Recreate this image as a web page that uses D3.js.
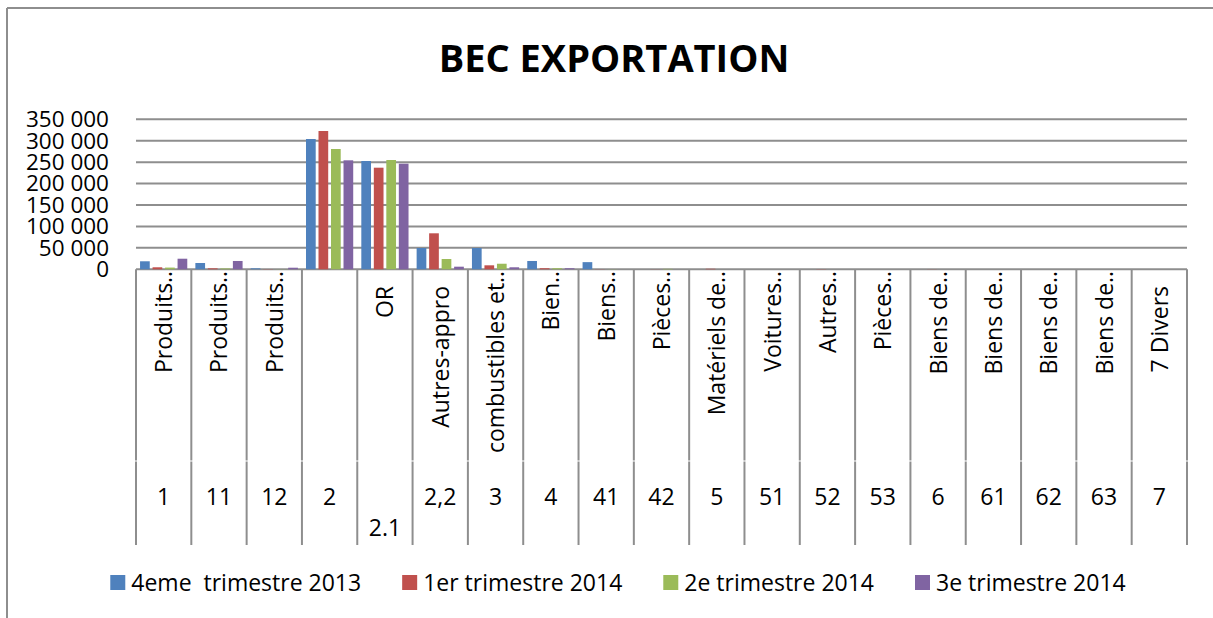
<!DOCTYPE html>
<html>
<head>
<meta charset="utf-8">
<script src="https://cdn.jsdelivr.net/npm/d3@7"></script>
<style>
  html, body { margin: 0; padding: 0; background: #fff; }
  svg { display: block; font-family: "Open Sans", sans-serif; }
</style>
</head>
<body>
<svg id="chart" width="1213" height="618"></svg>
<script>
// ---- data ----
const title = "BEC EXPORTATION";
const codes = ["1", "11", "12", "2", "2.1", "2,2", "3", "4", "41", "42", "5", "51", "52", "53", "6", "61", "62", "63", "7"];
const names = ["Produits…", "Produits…", "Produits…", "", "OR", "Autres-appro", "combustibles et…", "Bien…", "Biens…", "Pièces…",
               "Matériels de…", "Voitures…", "Autres…", "Pièces…", "Biens de…", "Biens de…", "Biens de…", "Biens de…", "7 Divers"];
const seriesNames = ["4eme  trimestre 2013", "1er trimestre 2014", "2e trimestre 2014", "3e trimestre 2014"];
const q4_2013 = [18700, 14700, 2300, 304000, 252700, 49700, 49700, 19400, 16700, 0, 0, 0, 0, 0, 0, 0, 0, 0, 0];
const q1_2014 = [4700, 2300, 500, 322700, 237100, 84000, 9300, 2500, 400, 300, 1200, 0, 500, 0, 300, 0, 0, 0, 0];
const q2_2014 = [4000, 2000, 300, 280700, 255000, 24000, 13000, 2500, 300, 1000, 0, 0, 0, 0, 0, 0, 0, 0, 0];
const q3_2014 = [24700, 19400, 3700, 254300, 246400, 6100, 4700, 2500, 0, 0, 0, 0, 0, 0, 0, 0, 0, 0, 0];
const yTicks = [0, 50000, 100000, 150000, 200000, 250000, 300000, 350000];
const colors = ["#4F81BD", "#C0504D", "#9BBB59", "#8064A2"];

const seriesValues = [q4_2013, q1_2014, q2_2014, q3_2014];

// ---- layout ----
const svg = d3.select("#chart");
const W = 1213, H = 618;
const plot = { left: 136, right: 1187, top: 119.3, bottom: 269.3 };
const gridColor = "#8e8e8e";

// frame (left + top)
svg.append("line").attr("x1", 7).attr("x2", 7).attr("y1", 8).attr("y2", H).attr("stroke", gridColor).attr("stroke-width", 2);
svg.append("line").attr("x1", 7).attr("x2", W).attr("y1", 8).attr("y2", 8).attr("stroke", gridColor).attr("stroke-width", 2);

// title
svg.append("text").attr("x", 614).attr("y", 72).attr("text-anchor", "middle")
  .attr("font-size", 38).attr("font-weight", "bold").attr("fill", "#000").text(title);

// scales
const x0 = d3.scaleBand().domain(d3.range(codes.length)).range([plot.left, plot.right]).paddingInner(0).paddingOuter(0);
const x1 = d3.scaleBand().domain(d3.range(seriesNames.length)).range([4.05, x0.bandwidth() - 4.05]).paddingInner(0.224).paddingOuter(0);
const y = d3.scaleLinear().domain([0, 350000]).range([plot.bottom, plot.top]);

const fmt = v => d3.format(",")(v).replace(/,/g, " ");

// gridlines
svg.append("g").selectAll("line").data(yTicks).join("line")
  .attr("x1", plot.left).attr("x2", plot.right)
  .attr("y1", d => y(d)).attr("y2", d => y(d))
  .attr("stroke", gridColor).attr("stroke-width", 2);

// y axis labels
svg.append("g").selectAll("text").data(yTicks).join("text")
  .attr("x", 109).attr("y", d => y(d)).attr("dy", "0.35em")
  .attr("text-anchor", "end").attr("font-size", 22.5).attr("fill", "#000")
  .text(d => fmt(d));

// bars
const groups = svg.append("g").selectAll("g").data(codes).join("g")
  .attr("transform", (d, i) => `translate(${x0(i)},0)`);
groups.selectAll("rect").data((d, i) => seriesValues.map((s, k) => ({ k, v: s[i] }))).join("rect")
  .attr("x", d => x1(d.k)).attr("width", x1.bandwidth())
  .attr("y", d => y(d.v)).attr("height", d => y(0) - y(d.v))
  .attr("fill", d => colors[d.k]);

// category dividers (two-level axis)
const bounds = d3.range(codes.length + 1).map(i => plot.left + i * x0.step());
const divG = svg.append("g");
divG.selectAll("line.a").data(bounds).join("line").attr("class", "a")
  .attr("x1", d => d).attr("x2", d => d).attr("y1", plot.bottom).attr("y2", 460.5)
  .attr("stroke", gridColor).attr("stroke-width", 2);
divG.selectAll("line.b").data(bounds).join("line").attr("class", "b")
  .attr("x1", d => d).attr("x2", d => d).attr("y1", 461.5).attr("y2", 545)
  .attr("stroke", gridColor).attr("stroke-width", 2);

// rotated name labels (clipped just below the axis)
svg.append("defs").append("clipPath").attr("id", "lblclip")
  .append("rect").attr("x", plot.left).attr("y", 271).attr("width", plot.right - plot.left).attr("height", 190);
svg.append("g").attr("clip-path", "url(#lblclip)").selectAll("text").data(names).join("text")
  .attr("transform", (d, i) => {
    const cx = x0(i) + x0.bandwidth() / 2 + 8.5;
    const yy = d.endsWith("…") ? 265 : 286;
    return `translate(${cx},${yy}) rotate(-90)`;
  })
  .attr("text-anchor", "end").attr("font-size", 23).attr("fill", "#000")
  .text(d => d);

// code labels
svg.append("g").selectAll("text").data(codes).join("text")
  .attr("x", (d, i) => x0(i) + x0.bandwidth() / 2)
  .attr("y", d => d === "2.1" ? 535.5 : 505)
  .attr("text-anchor", "middle").attr("font-size", 23).attr("fill", "#000")
  .text(d => d);

// legend
const leg = svg.append("g");
const items = leg.selectAll("g").data(seriesNames).join("g");
items.append("rect").attr("x", 0).attr("y", -16).attr("width", 15).attr("height", 15).attr("fill", (d, i) => colors[i]);
items.append("text").attr("x", 21).attr("y", 0).attr("font-size", 23).attr("fill", "#000")
  .attr("xml:space", "preserve").style("white-space", "pre").text(d => d);
const widths = [];
items.each(function () { widths.push(21 + d3.select(this).select("text").node().getComputedTextLength()); });
const gap = 41;
const total = d3.sum(widths) + gap * (widths.length - 1);
let cur = 618 - total / 2;
items.attr("transform", (d, i) => { const t = `translate(${cur},591)`; cur += widths[i] + gap; return t; });
</script>
</body>
</html>
